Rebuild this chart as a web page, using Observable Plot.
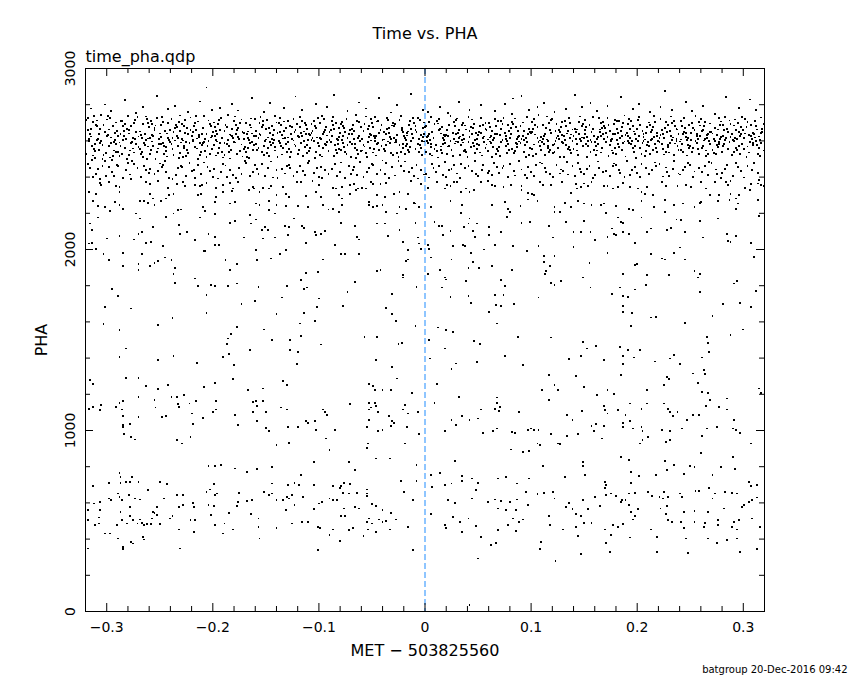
<!DOCTYPE html>
<html><head><meta charset="utf-8">
<script src="https://cdn.jsdelivr.net/npm/d3@7"></script>
<script src="https://cdn.jsdelivr.net/npm/@observablehq/plot@0.6"></script>
<style>html,body{margin:0;padding:0;background:#fff;} #chart svg{display:block}</style>
</head><body><div id="chart"></div><script>
// Event list: pairs of (time offset in ms from MET 503825560, PHA)
const topBandLeft = [
-317,2612,-313,2705,-319,2530,-315,2668,-311,2581,-318,2727,-314,2493,-316,2640,-312,2556,-310,2689,-317,2598,-313,2519,-319,2715,-315,2624,-311,2507,-318,2661,-314,2574,-312,2736,-316,2452,-310,2418,-313,2399,-318,2471,-315,2779,-311,2545,
-306,2587,-302,2651,-309,2713,-304,2502,-300,2628,-307,2549,-303,2690,-308,2611,-301,2533,-305,2742,-306,2667,-302,2489,-309,2604,-304,2576,-300,2718,-307,2638,-303,2521,-305,2599,-308,2443,-301,2407,-304,2462,-306,2391,-302,2801,-309,2684,
-298,2663,-294,2518,-291,2702,-296,2589,-299,2631,-293,2547,-297,2725,-292,2606,-295,2496,-290,2657,-298,2572,-294,2681,-291,2540,-296,2619,-299,2738,-293,2594,-297,2508,-292,2646,-295,2428,-290,2466,-293,2404,-298,2455,-296,2767,-291,2583,
-287,2709,-283,2561,-289,2625,-285,2680,-281,2498,-288,2591,-284,2653,-286,2529,-282,2612,-280,2737,-287,2574,-283,2695,-289,2541,-285,2603,-281,2668,-288,2515,-284,2629,-286,2712,-282,2437,-280,2479,-285,2396,-289,2459,-283,2826,-287,2637,
-276,2596,-272,2648,-279,2523,-274,2701,-270,2565,-277,2684,-273,2609,-278,2547,-271,2731,-275,2617,-276,2490,-272,2582,-279,2660,-274,2536,-270,2624,-277,2589,-273,2716,-275,2558,-278,2414,-271,2448,-274,2471,-277,2388,-272,2756,-279,2641,
-268,2634,-264,2577,-261,2698,-266,2511,-269,2652,-263,2605,-267,2540,-262,2721,-265,2590,-260,2676,-268,2528,-264,2640,-261,2613,-266,2693,-269,2557,-263,2735,-267,2618,-262,2499,-265,2461,-260,2425,-263,2440,-268,2402,-266,2789,-261,2569,
-257,2692,-253,2538,-259,2615,-255,2660,-251,2583,-258,2709,-254,2502,-256,2627,-252,2558,-250,2641,-257,2597,-253,2726,-259,2526,-255,2672,-251,2609,-258,2550,-254,2685,-256,2574,-252,2433,-250,2475,-255,2419,-259,2447,-253,2849,-257,2633,
-246,2571,-242,2699,-249,2620,-244,2545,-240,2662,-247,2588,-243,2514,-248,2731,-241,2603,-245,2656,-246,2530,-242,2617,-249,2690,-244,2566,-240,2593,-247,2704,-243,2641,-245,2487,-248,2455,-241,2394,-244,2428,-247,2468,-242,2775,-249,2581,
-238,2618,-234,2677,-231,2532,-236,2602,-239,2719,-233,2570,-237,2648,-232,2506,-235,2688,-230,2591,-238,2554,-234,2628,-231,2740,-236,2669,-239,2582,-233,2615,-237,2521,-232,2703,-235,2413,-230,2462,-233,2449,-238,2391,-236,2794,-231,2655,
-227,2574,-223,2636,-229,2691,-225,2517,-221,2658,-228,2602,-224,2549,-226,2715,-222,2587,-220,2627,-227,2680,-223,2534,-229,2611,-225,2596,-221,2729,-228,2512,-224,2673,-226,2645,-222,2477,-220,2432,-225,2407,-229,2456,-223,2762,-227,2561,
-216,2661,-212,2523,-219,2598,-214,2707,-210,2640,-217,2566,-213,2622,-218,2684,-211,2541,-215,2613,-216,2738,-212,2589,-219,2651,-214,2501,-210,2576,-217,2699,-213,2632,-215,2558,-218,2440,-211,2419,-214,2467,-217,2395,-212,2818,-219,2607,
-208,2594,-204,2713,-201,2556,-206,2638,-209,2669,-203,2527,-207,2610,-202,2682,-205,2573,-200,2647,-208,2736,-204,2600,-201,2625,-206,2512,-209,2587,-203,2693,-207,2546,-202,2619,-205,2458,-200,2401,-203,2436,-208,2481,-206,2895,-201,2771,
-197,2655,-193,2589,-199,2702,-195,2534,-191,2618,-198,2679,-194,2562,-196,2640,-192,2727,-190,2508,-197,2603,-193,2661,-199,2575,-195,2694,-191,2541,-198,2628,-194,2716,-196,2597,-192,2426,-190,2473,-195,2392,-199,2447,-193,2782,-197,2519,
-186,2607,-182,2666,-189,2521,-184,2635,-180,2708,-187,2582,-183,2549,-188,2690,-181,2614,-185,2573,-186,2741,-182,2625,-189,2657,-184,2503,-180,2596,-187,2677,-183,2630,-185,2538,-188,2464,-181,2410,-184,2439,-187,2400,-182,2803,-189,2588,
-178,2687,-174,2544,-171,2609,-176,2673,-179,2591,-173,2718,-177,2526,-172,2648,-175,2612,-170,2567,-178,2636,-174,2700,-171,2553,-176,2621,-179,2735,-173,2580,-177,2659,-172,2514,-175,2451,-170,2487,-173,2418,-178,2395,-176,2768,-171,2644,
-167,2562,-163,2641,-169,2699,-165,2587,-161,2626,-168,2511,-164,2674,-166,2603,-162,2548,-160,2719,-167,2652,-163,2595,-169,2537,-165,2688,-161,2578,-168,2640,-164,2724,-166,2506,-162,2430,-160,2466,-165,2404,-169,2478,-163,2836,-167,2614,
-156,2701,-152,2573,-159,2627,-154,2539,-150,2665,-157,2614,-153,2687,-158,2551,-151,2598,-155,2732,-156,2640,-152,2521,-159,2585,-154,2679,-150,2608,-157,2562,-153,2711,-155,2633,-158,2445,-151,2408,-154,2472,-157,2419,-152,2759,-159,2656,
-148,2619,-144,2683,-141,2547,-146,2596,-149,2714,-143,2633,-147,2518,-142,2661,-145,2577,-140,2702,-148,2559,-144,2610,-141,2736,-146,2645,-149,2532,-143,2588,-147,2670,-142,2603,-145,2486,-140,2437,-143,2398,-148,2452,-146,2810,-141,2566,
-137,2588,-133,2707,-139,2644,-135,2525,-131,2671,-138,2599,-134,2563,-136,2690,-132,2617,-130,2541,-137,2728,-133,2655,-139,2509,-135,2632,-131,2584,-138,2697,-134,2613,-136,2570,-132,2420,-130,2461,-135,2443,-139,2393,-133,2781,-137,2651,
-126,2636,-122,2570,-129,2712,-124,2602,-120,2529,-127,2684,-123,2648,-128,2557,-121,2695,-125,2611,-126,2540,-122,2662,-129,2594,-124,2721,-120,2627,-127,2512,-123,2580,-125,2675,-128,2469,-121,2428,-124,2405,-127,2450,-122,2845,-129,2619,
-118,2676,-114,2598,-111,2533,-116,2709,-119,2620,-113,2564,-117,2643,-112,2690,-115,2516,-110,2607,-118,2731,-114,2652,-111,2579,-116,2625,-119,2548,-113,2698,-117,2589,-112,2637,-115,2434,-110,2476,-113,2413,-118,2460,-116,2772,-111,2666,
-107,2603,-103,2669,-109,2545,-105,2712,-101,2588,-108,2631,-104,2507,-106,2655,-102,2619,-100,2572,-107,2694,-103,2537,-109,2640,-105,2598,-101,2725,-108,2561,-104,2683,-106,2614,-102,2448,-100,2401,-105,2425,-109,2489,-103,2804,-107,2646,
-96,2561,-92,2630,-99,2698,-94,2582,-90,2651,-97,2514,-93,2676,-98,2609,-91,2542,-95,2720,-96,2637,-92,2592,-99,2523,-94,2662,-90,2605,-97,2739,-93,2575,-95,2647,-98,2457,-91,2415,-94,2439,-97,2396,-92,2788,-99,2618,
-88,2712,-84,2548,-81,2620,-86,2665,-89,2593,-83,2531,-87,2687,-82,2604,-85,2575,-80,2644,-88,2626,-84,2701,-81,2557,-86,2517,-89,2659,-83,2611,-87,2732,-82,2585,-85,2472,-80,2430,-83,2408,-88,2446,-86,2855,-81,2673,
-77,2629,-73,2578,-79,2695,-75,2540,-71,2661,-78,2605,-74,2719,-76,2566,-72,2638,-70,2509,-77,2682,-73,2614,-79,2551,-75,2648,-71,2592,-78,2706,-74,2530,-76,2671,-72,2463,-70,2419,-75,2395,-79,2481,-73,2764,-77,2587,
-66,2584,-62,2703,-69,2636,-64,2551,-60,2677,-67,2610,-63,2527,-68,2690,-61,2601,-65,2742,-66,2562,-62,2625,-69,2581,-64,2709,-60,2543,-67,2654,-63,2618,-65,2506,-68,2438,-61,2485,-64,2412,-67,2455,-62,2812,-69,2667,
-58,2657,-54,2592,-51,2721,-56,2534,-59,2612,-53,2683,-57,2569,-52,2640,-55,2511,-50,2698,-58,2578,-54,2664,-51,2602,-56,2735,-59,2547,-53,2621,-57,2693,-52,2559,-55,2427,-50,2470,-53,2449,-58,2400,-56,2779,-51,2633,
-47,2615,-43,2548,-49,2676,-45,2707,-41,2571,-48,2629,-44,2590,-46,2519,-42,2662,-40,2603,-47,2731,-43,2643,-49,2536,-45,2584,-41,2690,-48,2557,-44,2712,-46,2626,-42,2441,-40,2492,-45,2416,-49,2465,-43,2838,-47,2598,
-36,2668,-32,2531,-39,2608,-34,2645,-30,2700,-37,2576,-33,2622,-38,2543,-31,2685,-35,2597,-36,2726,-32,2612,-39,2555,-34,2671,-30,2524,-37,2639,-33,2588,-35,2715,-38,2419,-31,2455,-34,2396,-37,2478,-32,2757,-39,2650,
-28,2591,-24,2717,-21,2563,-26,2634,-29,2680,-23,2540,-27,2607,-22,2659,-25,2513,-20,2626,-28,2695,-24,2576,-21,2648,-26,2531,-29,2617,-23,2738,-27,2594,-22,2673,-25,2489,-20,2436,-23,2461,-28,2409,-26,2800,-21,2582,
-17,2646,-13,2601,-19,2528,-15,2689,-11,2617,-18,2573,-14,2711,-16,2550,-12,2638,-10,2697,-17,2583,-13,2664,-19,2616,-15,2539,-11,2725,-18,2605,-14,2568,-16,2652,-12,2452,-10,2404,-15,2427,-19,2486,-13,2861,-17,2630,
-6,2609,-2,2672,-9,2554,-4,2631,-1,2702,-7,2585,-3,2521,-8,2648,-1,2597,-5,2716,-6,2540,-2,2620,-9,2683,-4,2562,-1,2639,-7,2728,-3,2601,-5,2575,-8,2468,-1,2414,-4,2440,-7,2392,-2,2770,-9,2658
];
const topBandRight = [
2,2622,6,2567,9,2693,4,2705,1,2540,7,2651,3,2588,8,2614,5,2529,0,2676,2,2598,6,2731,9,2557,4,2640,1,2683,7,2519,3,2625,5,2607,8,2451,1,2417,4,2398,7,2474,3,2762,6,2582,
13,2659,17,2585,11,2712,15,2550,19,2627,12,2696,16,2533,18,2604,14,2667,10,2577,13,2722,17,2615,11,2546,15,2641,19,2590,12,2508,16,2678,18,2633,14,2788,10,2429,13,2463,17,2411,19,2484,15,2569,
24,2601,28,2680,21,2527,26,2643,29,2714,22,2569,27,2612,23,2690,25,2551,20,2632,24,2738,28,2586,21,2660,26,2515,29,2597,22,2626,27,2703,23,2574,25,2445,20,2402,23,2437,27,2468,22,2755,29,2639,
35,2687,31,2593,38,2550,33,2624,36,2701,39,2538,32,2659,37,2612,34,2578,30,2724,35,2603,31,2646,38,2685,33,2524,36,2591,39,2663,32,2618,37,2545,34,2473,30,2420,33,2396,38,2451,32,2816,36,2634,
46,2570,42,2655,49,2612,44,2718,41,2596,47,2531,43,2677,48,2643,45,2589,40,2510,46,2692,42,2621,49,2557,44,2639,41,2733,47,2603,43,2565,45,2670,48,2418,41,2459,44,2433,47,2487,42,2772,49,2584,
53,2646,57,2701,51,2578,55,2617,59,2542,52,2684,56,2595,58,2660,54,2519,50,2631,53,2728,57,2562,51,2649,55,2690,59,2608,52,2536,56,2624,58,2580,54,2440,50,2406,55,2465,59,2425,53,2799,57,2667,
64,2605,68,2553,61,2679,66,2636,69,2712,62,2590,67,2527,63,2657,65,2614,60,2701,64,2568,68,2640,61,2597,66,2722,69,2546,62,2628,67,2683,63,2511,65,2479,60,2434,63,2412,68,2457,66,2765,61,2619,
75,2803,71,2633,78,2581,73,2695,76,2610,79,2548,72,2667,77,2599,74,2727,70,2565,75,2642,71,2518,78,2686,73,2603,76,2573,79,2654,72,2711,77,2535,74,2461,70,2421,73,2448,78,2400,72,2592,76,2628,
83,2834,87,2612,81,2671,85,2543,89,2626,82,2705,86,2589,88,2657,84,2531,80,2615,83,2692,87,2566,81,2640,85,2724,89,2597,82,2554,86,2678,88,2620,84,2436,80,2472,85,2409,89,2490,82,2748,87,2583,
91,2847,96,2596,93,2657,98,2524,90,2683,95,2618,99,2562,92,2702,97,2639,94,2575,91,2611,96,2730,93,2541,98,2664,90,2590,95,2509,99,2648,92,2625,97,2455,94,2413,91,2442,96,2397,98,2771,93,2606,
104,2635,108,2571,101,2703,106,2614,109,2548,102,2667,107,2593,103,2721,105,2529,100,2644,104,2686,108,2602,101,2557,106,2679,109,2622,102,2515,107,2741,103,2580,105,2468,100,2427,103,2404,108,2481,106,2785,101,2651,
115,2608,111,2689,118,2552,113,2640,116,2573,119,2716,112,2626,117,2537,114,2670,110,2594,115,2735,111,2612,118,2659,113,2521,116,2600,119,2643,112,2581,117,2697,114,2429,110,2475,113,2450,118,2417,112,2808,116,2563,
126,2660,122,2585,129,2706,124,2618,121,2534,127,2647,123,2599,128,2675,125,2560,120,2722,126,2611,122,2540,129,2631,124,2693,121,2577,127,2513,123,2653,125,2628,128,2442,121,2401,124,2466,127,2420,122,2760,129,2596,
133,2579,137,2701,131,2625,135,2554,139,2663,132,2606,136,2728,138,2532,134,2641,130,2590,133,2684,137,2617,131,2509,135,2657,139,2599,132,2711,136,2566,138,2635,134,2482,130,2436,135,2414,139,2459,133,2774,137,2548,
141,2853,146,2611,143,2547,148,2680,140,2627,145,2703,149,2571,142,2649,147,2598,144,2522,141,2666,146,2735,143,2585,148,2619,140,2554,145,2638,149,2694,142,2610,147,2430,144,2478,141,2405,146,2445,148,2787,143,2663,
154,2598,158,2665,151,2716,156,2541,159,2627,152,2583,157,2650,153,2509,155,2689,150,2614,154,2571,158,2732,151,2636,156,2603,159,2548,152,2677,157,2592,153,2620,155,2463,150,2419,153,2447,158,2394,156,2809,151,2659,
165,2647,161,2573,168,2704,163,2621,166,2536,169,2682,162,2610,167,2559,164,2725,160,2596,165,2663,161,2520,168,2640,163,2585,166,2697,169,2612,162,2547,167,2673,164,2451,160,2412,163,2486,168,2428,162,2763,166,2629,
176,2610,172,2728,179,2562,174,2655,171,2592,177,2637,173,2518,178,2694,175,2603,170,2669,176,2547,172,2621,179,2715,174,2578,171,2646,177,2534,173,2687,175,2599,178,2475,171,2433,174,2408,177,2462,172,2792,179,2640,
185,2844,181,2668,188,2597,183,2712,186,2550,189,2632,182,2581,187,2699,184,2617,180,2529,185,2655,181,2603,188,2740,183,2566,186,2678,189,2514,182,2644,187,2589,184,2422,180,2469,183,2441,188,2399,186,2627,181,2710,
194,2583,198,2637,191,2694,196,2559,199,2612,192,2721,197,2540,193,2668,195,2598,190,2646,194,2710,198,2571,191,2625,196,2683,199,2506,192,2590,197,2652,193,2614,195,2437,190,2488,193,2410,198,2456,196,2778,191,2601,
205,2656,201,2598,208,2543,203,2689,206,2620,209,2575,202,2731,207,2608,204,2530,200,2664,205,2587,201,2714,208,2642,203,2559,206,2601,209,2677,202,2625,207,2516,204,2473,200,2425,203,2399,208,2448,202,2805,206,2638,
216,2622,212,2687,219,2539,214,2610,211,2702,217,2581,213,2648,218,2563,215,2675,210,2595,216,2738,212,2526,219,2629,214,2661,211,2573,217,2706,213,2607,215,2550,218,2463,211,2416,214,2440,217,2481,212,2758,219,2643,
226,2877,222,2631,229,2688,224,2553,221,2617,227,2706,223,2582,228,2649,225,2525,220,2600,226,2671,222,2723,229,2566,224,2636,221,2594,227,2541,223,2659,225,2615,228,2428,221,2474,224,2403,227,2453,222,2785,229,2578,
233,2603,237,2667,231,2590,235,2712,239,2548,232,2628,236,2684,238,2572,234,2619,230,2536,233,2697,237,2611,231,2655,235,2520,239,2640,232,2735,236,2586,238,2663,234,2446,230,2407,235,2489,239,2420,233,2771,237,2599,
244,2651,248,2575,241,2711,246,2622,249,2559,242,2680,247,2604,243,2537,245,2669,240,2597,244,2727,248,2614,241,2548,246,2643,249,2690,242,2582,247,2519,243,2636,245,2458,240,2414,243,2438,248,2477,246,2815,241,2608,
255,2598,251,2644,258,2703,253,2561,256,2627,259,2685,252,2540,257,2612,254,2659,250,2574,255,2739,251,2603,258,2530,253,2672,256,2590,259,2625,252,2698,257,2553,254,2431,250,2469,253,2400,258,2452,252,2764,256,2638,
266,2632,262,2570,269,2696,264,2611,261,2655,267,2529,263,2683,268,2598,265,2547,260,2719,266,2618,262,2662,269,2584,264,2705,261,2559,267,2640,263,2602,265,2515,268,2484,261,2426,264,2459,267,2412,262,2792,269,2650,
273,2670,277,2595,271,2548,275,2633,279,2707,272,2612,276,2566,278,2688,274,2527,270,2651,273,2598,277,2726,271,2641,275,2579,279,2620,272,2534,276,2663,278,2609,274,2442,270,2478,275,2417,279,2396,273,2750,277,2585,
284,2844,288,2622,281,2690,286,2555,289,2636,282,2581,287,2713,283,2603,285,2664,280,2540,284,2617,288,2695,281,2573,286,2648,289,2520,282,2659,287,2594,283,2731,285,2466,280,2421,283,2445,288,2380,286,2355,281,2628,
294,2609,298,2676,291,2537,296,2651,299,2584,292,2718,297,2625,293,2560,295,2697,290,2603,294,2548,298,2640,291,2685,296,2571,299,2733,292,2614,297,2529,293,2662,295,2455,290,2404,293,2479,298,2432,296,2781,291,2598,
306,2829,302,2641,309,2588,304,2705,301,2553,307,2627,303,2679,308,2611,305,2536,300,2660,306,2596,302,2722,309,2645,304,2569,301,2616,307,2690,303,2512,305,2634,308,2440,301,2398,304,2463,307,2364,302,2341,309,2575,
313,2663,317,2590,311,2712,315,2624,319,2547,312,2681,316,2607,318,2651,314,2530,310,2638,313,2575,317,2729,311,2619,315,2563,319,2694,312,2601,316,2518,318,2667,314,2421,310,2476,315,2385,319,2352,312,2773,317,2642
];
const midBandLeft = [
-306,2368,-305,2355,-298,2374,-291,2350,-288,2346,-263,2374,-259,2361,-252,2377,-242,2342,-234,2361,-228,2374,-226,2350,-217,2355,-212,2350,-210,2355,-206,2368,-197,2342,-190,2355,-184,2368,-181,2337,-176,2374,-162,2346,-153,2342,-145,2350,-134,2346,-121,2374,-117,2374,-106,2377,-100,2355,-87,2342,-84,2337,-78,2346,-71,2355,-67,2361,-59,2342,-56,2337,-51,2374,-49,2361,-42,2361,-37,2368,-13,2377,-4,2361,
-317,2319,-310,2309,-288,2319,-259,2309,-241,2300,-237,2306,-214,2300,-211,2306,-197,2291,-190,2319,-182,2324,-166,2328,-161,2337,-156,2319,-147,2337,-140,2300,-131,2309,-128,2291,-112,2295,-103,2319,-98,2291,-81,2300,-78,2282,-71,2309,-65,2328,-63,2337,-53,2263,-45,2300,-38,2291,-29,2309,-24,2319,-16,2309,-10,2258,-313,2269,-269,2269,-265,2269,-256,2282,-249,2269,-244,2282,-198,2263,-184,2254,-179,2263,-159,2254,-147,2269,-140,2245,
-308,2239,-302,2236,-297,2214,-292,2263,-288,2245,-285,2226,-272,2199,-269,2171,-261,2258,-255,2245,-244,2180,-237,2199,-233,2217,-230,2221,-209,2236,-207,2214,-198,2195,-165,2190,-156,2245,-147,2217,-141,2199,-131,2239,-123,2171,-120,2239,-110,2236,-96,2245,-91,2221,-87,2226,-81,2208,-78,2245,-53,2245,-49,2236,-45,2239,-40,2245,-37,2208,-26,2199,-24,2236,-18,2226,-9,2254,-6,2236,
-316,2144,-314,2107,-308,2177,-300,2061,-288,2074,-274,2055,-270,2088,-267,2098,-263,2037,-258,2042,-256,2125,-247,2018,-232,2134,-231,2088,-224,2098,-217,2051,-212,2177,-208,1992,-204,2088,-198,2070,-198,2024,-194,2024,-184,2147,-179,2158,-171,2066,-164,2144,-159,2166,-154,2107,-153,2061,-151,2125,-148,2107,-141,2066,-132,2129,-129,2079,-128,2125,-124,2171,-116,2129,-114,2121,-112,2037,-104,2098,-103,2079,-98,2088,-94,2103,-85,2024,-79,2147,-66,2129,-64,2070,-62,2055,-45,2144,-38,2144,-35,2074,-24,2107,-21,2042,-9,2147,-7,2066,-6,2033,-4,2005,-317,2033,-314,2037,
-310,2005,-303,1974,-298,1941,-285,1981,-285,1908,-270,1922,-270,1889,-267,1974,-259,1908,-255,1926,-252,1937,-245,1956,-239,1941,-237,1864,-236,1900,-236,1816,-217,1840,-214,1797,-207,1992,-202,1803,-198,1797,-188,1941,-186,1797,-184,1886,-177,1812,-177,1922,-159,1996,-158,1941,-157,1794,-145,1950,-137,1974,-131,1996,-130,1797,-117,1830,-114,1784,-112,1871,-111,1790,-101,1876,-96,1945,-79,1974,-75,1974,-66,1821,-62,1974,-45,1882,-42,1889,-21,1858,-21,1845,-18,1937,-16,1996,-16,1945,-8,1794,
-295,1784,-289,1742,-302,1683,-277,1674,-206,1748,-206,1650,-173,1698,-160,1716,-135,1735,-140,1642,-118,1591,-114,1650,-104,1606,-102,1683,-100,1729,-77,1687,-73,1766,-37,1679,-31,1753,-31,1642,-27,1606,-9,1576,-303,1587,-288,1554,-252,1582,-238,1622,-177,1573,-183,1532,-186,1508,-152,1558,-117,1521,-127,1499,
-282,1453,-288,1407,-252,1388,-237,1412,-215,1374,-187,1480,-185,1425,-190,1407,-180,1361,-165,1444,-144,1499,-127,1444,-121,1366,-120,1434,-98,1475,-57,1517,-45,1517,-46,1388,-25,1480,-22,1484,-31,1351,-26,1287,-316,1278,-313,1256,-282,1289,-270,1289,-263,1245,-252,1228,-242,1250,-208,1241,-198,1263,-181,1283,-167,1224,-153,1232,-134,1272,-130,1252,-53,1256,-49,1245,-47,1222,-40,1222,-32,1226,
-317,1121,-313,1130,-306,1112,-305,1140,-291,1130,-288,1153,-286,1116,-285,1164,-285,1079,-285,1029,-285,1020,-284,983,-278,1038,-270,1186,-270,1075,-255,1167,-254,1127,-248,1075,-244,1079,-239,1186,-234,1186,-233,1145,-232,1130,-227,1195,-222,1149,-220,1094,-219,1038,-216,1162,-209,1070,-200,1103,-197,1164,-197,1116,-179,1088,-176,1029,-162,1158,-162,1103,-159,1164,-158,1134,-153,1164,-150,1103,-158,1053,-150,1016,-147,998,-136,1127,-130,1116,-129,1020,-120,1020,-112,1053,-110,1042,-104,1053,-103,1005,-96,1116,-94,1103,-92,1084,-85,1001,-71,1145,-53,1153,-51,1127,-47,1153,-46,1134,-53,1116,-53,1057,-44,1103,-55,1020,-44,998,-40,1005,-34,1079,-31,1053,-29,1042,-32,1024,-17,1020,-16,1094,-21,1116,-19,1140,-12,1208,-7,1103,-6,983
];
const midBandRight = [
3,2342,11,2374,19,2337,21,2355,24,2350,27,2374,30,2374,34,2319,39,2337,42,2319,46,2331,53,2374,59,2377,63,2355,66,2350,74,2346,81,2355,91,2350,91,2328,97,2313,101,2309,103,2300,108,2374,111,2355,119,2355,129,2374,138,2313,142,2361,143,2337,147,2346,150,2365,154,2350,157,2374,169,2350,172,2350,177,2337,182,2346,187,2368,193,2346,201,2337,204,2319,207,2309,209,2346,215,2300,223,2374,227,2350,238,2350,246,2355,251,2346,260,2374,265,2337,269,2300,273,2374,277,2300,284,2374,288,2309,296,2300,306,2328,314,2365,317,2355,
6,2236,24,2269,35,2245,34,2203,63,2245,75,2263,78,2226,80,2208,90,2239,97,2276,106,2269,122,2236,122,2208,127,2208,132,2258,138,2236,144,2269,150,2254,157,2245,166,2245,169,2254,171,2203,180,2239,192,2226,196,2217,204,2269,216,2236,226,2272,226,2208,235,2245,243,2254,254,2236,259,2258,260,2263,276,2269,287,2272,293,2282,293,2226,295,2254,314,2272,
9,2153,13,2129,16,2129,17,2079,24,2103,37,2125,41,2144,42,2171,45,2103,49,2144,47,2070,60,2125,60,2079,72,2098,77,2180,91,2147,99,2153,117,2129,121,2066,133,2153,140,2098,150,2158,147,2098,156,2098,160,2051,172,2070,176,2116,178,2088,180,2079,182,2177,185,2153,187,2147,187,2098,192,2085,198,2037,204,2177,209,2098,213,2116,228,2107,232,2121,237,2166,241,2162,245,2098,259,2158,262,2066,276,2171,285,2085,286,2048,288,2042,293,2074,307,2037,315,2184,
3,2024,4,2005,6,1956,25,1945,26,2018,36,2024,38,2018,43,1981,45,1932,56,2000,66,2024,83,2018,96,1992,107,2018,112,1963,112,1932,122,1963,118,1908,114,1882,113,1864,140,2015,155,1926,172,1981,200,1919,198,1913,213,1974,223,1950,226,1945,235,1981,240,2011,245,1945,254,1882,259,1864,257,1845,82,1889,63,1908,51,1900,41,1900,14,1889,19,1845,20,1834,3,1864,39,1827,72,1830,75,1797,119,1816,128,1827,122,1803,149,1845,187,1864,209,1858,230,1858,291,1812,294,1827,310,1959,16,1790,156,1790,184,1790,198,1779,208,1803,312,1771,
24,1738,41,1742,43,1705,66,1748,74,1748,67,1692,72,1687,84,1698,107,1735,60,1655,68,1591,88,1517,119,1514,176,1753,187,1742,191,1738,187,1687,187,1655,195,1650,194,1576,213,1624,218,1628,245,1595,259,1766,271,1631,281,1698,297,1705,307,1683,12,1569,20,1554,26,1545,4,1499,46,1495,52,1477,149,1490,153,1453,161,1466,184,1462,191,1444,203,1444,266,1517,267,1484,288,1526,300,1558,
19,1453,5,1398,29,1370,25,1342,49,1379,75,1410,92,1361,136,1394,147,1410,169,1388,187,1410,187,1366,197,1403,217,1381,231,1398,235,1416,240,1366,268,1434,261,1403,117,1305,142,1302,185,1305,228,1296,230,1283,253,1315,263,1333,264,1311,11,1256,122,1250,125,1226,110,1226,150,1241,162,1195,172,1226,178,1200,225,1252,257,1263,209,1222,261,1213,267,1208,315,1232,317,1208,
9,1153,32,1186,68,1182,68,1153,66,1121,71,1130,70,1108,53,1116,89,1103,117,1167,134,1084,139,1060,148,1108,169,1134,170,1112,172,1094,182,1112,189,1084,193,1149,204,1121,209,1149,225,1149,229,1121,231,1103,234,1079,238,1103,247,1060,253,1084,258,1084,269,1167,265,1134,277,1130,285,1116,285,1177,25,1060,35,1079,42,1060,50,1066,29,1029,291,1060,187,1042,193,1053,204,1020,205,998,157,1024,161,1035,159,998,169,1024,187,1020,19,998,55,987,64,998,68,1011,82,992,85,987,97,1005,100,1011,103,1001,107,1001,119,983,144,979,196,1011,223,1005,231,998,242,1011,266,1011,275,1020,290,1011,293,1005,297,987
];
const lowBandLeft = [
-277,965,-273,950,-234,947,-229,928,-221,965,-140,919,-128,932,-93,956,-90,891,-55,901,-54,928,-46,845,-33,845,-19,928,-105,827,-72,827,-8,809,-66,781,-204,803,-198,803,-192,809,-179,790,-168,772,-158,785,-144,799,-117,753,-123,711,-129,698,-119,698,-105,698,-87,693,-79,693,-76,711,-71,704,-80,680,-77,656,-72,652,-64,656,-55,674,-55,652,-55,637,-23,722,-20,661,-8,722,-313,693,-298,711,-288,763,-287,744,-287,711,-282,716,-278,716,-276,744,-270,716,-289,652,-288,634,-286,615,-279,643,-273,624,-261,670,-250,716,-243,704,-246,624,-253,578,-256,551,-257,514,-265,477,-262,483,-266,413,-265,398,-275,505,-278,527,-271,486,-269,508,-267,490,-275,376,-285,357,-285,343,-289,403,-277,385,-318,560,-318,505,-318,348,-312,597,-306,606,-298,624,-296,615,-306,560,-311,477,-307,486,-307,519,-302,431,-297,431,-290,477,-287,551,-286,505,-281,486,-278,578,-269,619,-258,483,-255,545,-253,532,-250,483,-240,514,-238,527,-234,643,-232,578,-228,643,-228,587,-232,453,-231,348,-219,600,-218,578,-217,505,-218,440,-221,505,-206,661,-203,674,-199,704,-198,643,-196,652,-204,587,-199,582,-202,532,-198,477,-189,486,-190,431,-185,545,-181,453,-177,582,-175,656,-176,606,-168,611,-163,615,-164,541,-157,514,-157,468,-156,403,-152,661,-147,643,-144,707,-144,652,-140,615,-140,459,-134,615,-131,560,-130,634,-128,624,-125,643,-123,587,-125,486,-116,496,-110,496,-115,634,-105,564,-100,597,-101,468,-99,459,-101,339,-97,606,-90,624,-87,615,-83,615,-87,453,-90,422,-79,527,-75,527,-76,569,-80,390,-72,449,-68,459,-66,575,-62,569,-58,416,-55,496,-53,514,-54,453,-50,593,-46,582,-50,486,-46,440,-43,508,-40,560,-40,496,-37,501,-33,453,-32,545,-27,508,-16,468,-11,615,-11,339
];
const lowBandRight = [
81,895,92,882,98,888,106,928,108,919,125,928,127,925,134,969,167,956,203,928,205,947,210,965,227,938,231,947,261,969,260,877,307,928,28,833,35,748,35,722,44,735,50,711,48,670,19,698,25,707,14,763,6,753,7,689,6,541,111,803,149,827,149,803,151,753,132,744,185,855,192,836,194,772,202,748,194,711,218,753,226,833,228,781,235,809,244,759,250,803,254,796,271,753,279,799,290,855,292,785,305,716,307,693,313,698,69,735,76,744,87,707,98,735,95,661,106,648,112,656,121,661,122,624,170,717,170,680,171,698,171,643,175,652,180,637,186,615,192,652,198,656,210,661,214,637,221,634,225,661,229,634,240,652,242,634,255,667,258,667,268,680,273,652,283,661,289,656,294,652,305,606,313,630,308,615,301,587,299,578,282,569,22,615,28,600,44,624,59,606,66,619,69,569,72,611,80,606,87,619,76,560,86,560,97,587,19,477,20,459,26,523,33,496,35,440,41,514,48,472,53,413,50,293,69,449,78,477,83,514,89,496,92,508,86,446,62,367,67,380,108,343,109,385,117,527,118,477,130,453,123,280,133,578,136,600,139,564,142,541,142,468,144,416,147,527,149,615,150,490,154,564,157,490,147,320,160,634,165,582,170,453,171,379,174,330,175,422,177,477,182,468,185,606,187,483,189,615,192,587,193,409,194,551,196,508,198,527,201,564,213,453,219,413,219,330,222,569,224,624,228,582,227,541,229,505,233,496,241,496,244,551,244,459,246,403,248,324,254,556,254,496,263,468,264,490,267,551,267,403,271,624,275,379,276,505,276,477,285,394,289,468,291,496,294,453,296,505,297,330,294,403,308,514,313,343,316,468,42,35
];

// Axis ticks and labels
const xMajorTicks = [-0.3, -0.2, -0.1, 0, 0.1, 0.2, 0.3];
const xTickLabels = ["\u22120.3", "\u22120.2", "\u22120.1", "0", "0.1", "0.2", "0.3"];
const xMinorTicks = [-0.28, -0.26, -0.24, -0.22, -0.18, -0.16, -0.14, -0.12, -0.08, -0.06, -0.04, -0.02,
  0.02, 0.04, 0.06, 0.08, 0.12, 0.14, 0.16, 0.18, 0.22, 0.24, 0.26, 0.28];
const yMajorTicks = [0, 1000, 2000, 3000];
const yTickLabels = ["0", "1000", "2000", "3000"];
const yMinorTicks = [200, 400, 600, 800, 1200, 1400, 1600, 1800, 2200, 2400, 2600, 2800];

function toEvents(arr) {
  const out = [];
  for (let i = 0; i < arr.length; i += 2) out.push({t: arr[i] / 1000, pha: arr[i + 1]});
  return out;
}
const events = [topBandLeft, topBandRight, midBandLeft, midBandRight, lowBandLeft, lowBandRight].flatMap(toEvents);

const FH = 680 - 68 - 69; // frame height
const FW = 850 - 85 - 86; // frame width

const chart = Plot.plot({
  width: 850, height: 680,
  marginLeft: 85, marginRight: 86, marginTop: 68, marginBottom: 69,
  style: {fontFamily: "'DejaVu Sans', sans-serif", background: "#fff", color: "#000"},
  x: {domain: [-0.32, 0.32], axis: null},
  y: {domain: [0, 3000], axis: null},
  marks: [
    Plot.ruleX([0], {stroke: "#1e8cff", strokeDasharray: "6,3"}),
    Plot.dot(events, {x: "t", y: "pha", symbol: "square", r: 1.05, fill: "#000", shapeRendering: "crispEdges"}),
    Plot.frame({stroke: "#000"}),
    Plot.ruleX(xMajorTicks, {insetTop: FH - 8}),
    Plot.ruleX(xMajorTicks, {insetBottom: FH - 8}),
    Plot.ruleX(xMinorTicks, {insetTop: FH - 5}),
    Plot.ruleX(xMinorTicks, {insetBottom: FH - 5}),
    Plot.ruleY(yMajorTicks, {insetRight: FW - 8}),
    Plot.ruleY(yMajorTicks, {insetLeft: FW - 8}),
    Plot.ruleY(yMinorTicks, {insetRight: FW - 5}),
    Plot.ruleY(yMinorTicks, {insetLeft: FW - 5}),
    Plot.text(xTickLabels, {x: (d, i) => xMajorTicks[i], text: d => d, frameAnchor: "bottom", dy: 11, lineAnchor: "top", fontSize: 14}),
    Plot.text(yTickLabels, {y: (d, i) => yMajorTicks[i], text: d => d, frameAnchor: "left", dx: -11, rotate: -90, lineAnchor: "bottom", textAnchor: "middle", fontSize: 14}),
    Plot.text(["Time vs. PHA"], {text: d => d, frameAnchor: "top", dy: -30, lineAnchor: "bottom", fontSize: 16}),
    Plot.text(["time_pha.qdp"], {text: d => d, frameAnchor: "top-left", dy: -7, lineAnchor: "bottom", textAnchor: "start", fontSize: 16}),
    Plot.text(["MET \u2212 503825560"], {text: d => d, frameAnchor: "bottom", dy: 44, lineAnchor: "bottom", fontSize: 16}),
    Plot.text(["PHA"], {text: d => d, frameAnchor: "left", dx: -39, rotate: -90, lineAnchor: "bottom", textAnchor: "middle", fontSize: 16}),
    Plot.text(["batgroup 20-Dec-2016 09:42"], {text: d => d, frameAnchor: "bottom-right", dx: 83, dy: 61, textAnchor: "end", lineAnchor: "bottom", fontSize: 10})
  ]
});
document.getElementById("chart").appendChild(chart);
</script></body></html>
